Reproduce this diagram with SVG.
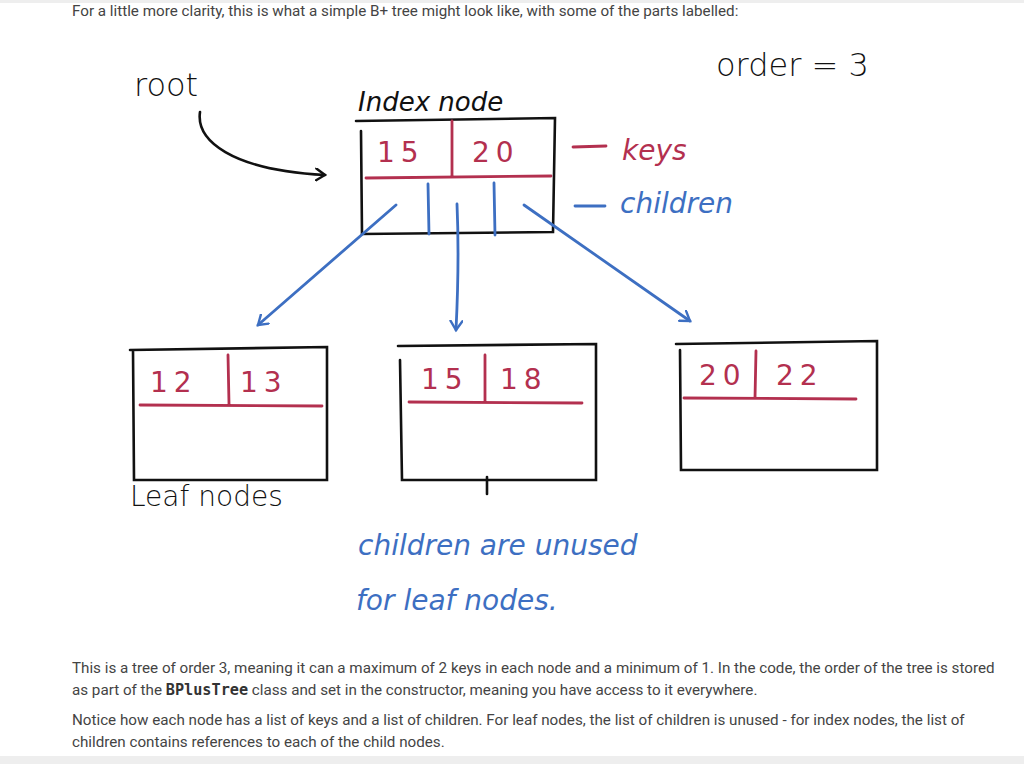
<svg xmlns="http://www.w3.org/2000/svg" width="1024" height="764" viewBox="0 0 1024 764">
<defs>
<marker id="ah" markerWidth="14" markerHeight="14" refX="10" refY="7" orient="auto" markerUnits="userSpaceOnUse"><path d="M1,1 L10,7 L1,13" fill="none" stroke="#3d6fc2" stroke-width="2.4" stroke-linecap="round"/></marker>
<marker id="ahk" markerWidth="14" markerHeight="14" refX="10" refY="7" orient="auto" markerUnits="userSpaceOnUse"><path d="M1,1 L10,7 L1,13" fill="none" stroke="#111" stroke-width="2.4" stroke-linecap="round"/></marker>
</defs>
<style>
.blk{fill:none;stroke:#111;stroke-width:2.6;stroke-linecap:round}
.red{fill:none;stroke:#b3304f;stroke-width:2.8;stroke-linecap:round}
.blu{fill:none;stroke:#3d6fc2;stroke-width:2.8;stroke-linecap:round}
.hand{font-family:"DejaVu Sans",sans-serif;font-weight:300}
.kt{font-family:"DejaVu Sans",sans-serif;fill:#b3304f;font-size:28px;letter-spacing:6px}
.body{font-family:Roboto,"Liberation Sans",sans-serif;font-size:15.2px;fill:#444}
</style>
<rect width="1024" height="764" fill="#fff"/>
<rect width="1024" height="3" fill="#eee"/>
<rect y="756" width="1024" height="8" fill="#eee"/>
<text class="body" x="72" y="16">For a little more clarity, this is what a simple B+ tree might look like, with some of the parts labelled:</text>

<text class="hand" x="716" y="76" font-size="32" fill="#111">order = 3</text>
<text class="hand" x="134" y="96" font-size="32" fill="#111">root</text>
<text class="hand" x="358" y="111" font-size="26" fill="#111" font-style="italic">Index node</text>

<g id="index-node">
<path class="blk" d="M356,121 L555,118 L553,232 L362,234 L361,131"/>
<path class="red" d="M366,178 L551,176 M452,121 L452,177"/>
<text class="kt" x="377" y="162">15</text>
<text class="kt" x="472" y="162">20</text>
<path class="blu" d="M428,184 L429,234 M494,183 L495,235"/>
</g>
<g id="labels">
<path class="red" d="M573,147 L606,146"/>
<text class="hand" x="622" y="160" font-size="28" fill="#b3304f" font-style="italic">keys</text>
<path class="blu" d="M575,206 L605,206"/>
<text class="hand" x="620" y="213" font-size="28" fill="#3d6fc2" font-style="italic">children</text>
</g>

<g id="leaf-1">
<path class="blk" d="M130,350 L327,347 L327,480 L134,480 L133,350"/>
<path class="red" d="M140,405 L322,406 M228,355 L229,404"/>
<text class="kt" x="150" y="392">12</text>
<text class="kt" x="240" y="392">13</text>
</g>
<g id="leaf-2">
<path class="blk" d="M398,346 L596,344 L596,480 L402,480 L400,360"/>
<path class="red" d="M409,402 L582,403 M485,355 L485,402"/>
<text class="kt" x="421" y="389">15</text>
<text class="kt" x="500" y="389">18</text>
</g>
<g id="leaf-3">
<path class="blk" d="M676,344 L877,341 L877,470 L681,470 L680,350"/>
<path class="red" d="M684,398 L856,399 M756,351 L755,398"/>
<text class="kt" x="699" y="385">20</text>
<text class="kt" x="776" y="385">22</text>
</g>

<g id="connectors">
<path class="blk" d="M200,112 C196,140 230,170 325,175" marker-end="url(#ahk)"/>
<path class="blu" d="M396,205 L258,325" marker-end="url(#ah)"/>
<path class="blu" d="M457,204 C459,250 458,290 456,330" marker-end="url(#ah)"/>
<path class="blu" d="M524,205 L690,321" marker-end="url(#ah)"/>
<path class="blk" d="M487,477 L487,494"/>
</g>

<text class="hand" x="130" y="506" font-size="28" fill="#111">Leaf nodes</text>
<text class="hand" x="358" y="555" font-size="28" fill="#3d6fc2" font-style="italic">children are unused</text>
<text class="hand" x="356" y="610" font-size="28" fill="#3d6fc2" font-style="italic">for leaf nodes.</text>

<text class="body" x="72" y="673">This is a tree of order 3, meaning it can a maximum of 2 keys in each node and a minimum of 1. In the code, the order of the tree is stored</text>
<text class="body" x="72" y="695">as part of the <tspan font-family="'DejaVu Sans Mono',monospace" font-weight="bold" fill="#333">BPlusTree</tspan> class and set in the constructor, meaning you have access to it everywhere.</text>
<text class="body" x="72" y="725">Notice how each node has a list of keys and a list of children. For leaf nodes, the list of children is unused - for index nodes, the list of</text>
<text class="body" x="72" y="747">children contains references to each of the child nodes.</text>
</svg>
